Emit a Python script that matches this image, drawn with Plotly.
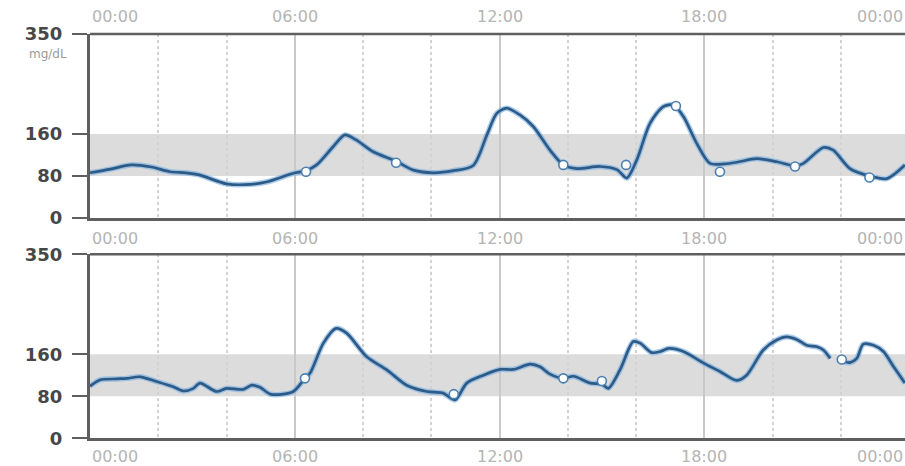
import plotly.graph_objects as go
from plotly.subplots import make_subplots

# ---- data (hours after midnight, glucose mg/dL) ----
top_hours = [0, 0.6, 1.2, 1.8, 2.35, 2.8, 3.2, 4.0, 4.7, 5.2, 5.96, 6.33, 6.64, 7.13, 7.47, 7.81,
             8.3, 8.97, 9.48, 10.06, 10.65, 11.23, 11.63, 11.92, 12.21, 12.6, 12.99, 13.48, 13.87,
             14.26, 14.95, 15.44, 15.73, 16.02, 16.41, 16.8, 17.1, 17.39, 17.78, 18.17, 18.6, 18.95,
             19.54, 20.13, 20.66, 20.91, 21.49, 21.78, 22.27, 22.84, 23.35, 23.88]
top_glucose = [86, 93, 101, 97, 88, 86, 82, 65, 64, 69, 85, 90, 101, 136, 158, 148,
               126, 108, 91, 86, 90, 100, 158, 199, 209, 196, 174, 129, 101,
               94, 98, 92, 76, 110, 180, 212, 215, 193, 142, 104, 103, 106,
               113, 107, 99, 104, 134, 129, 94, 80, 75, 101]
top_marker_hours = [6.33, 8.97, 13.87, 15.71, 17.17, 18.46, 20.66, 22.84]
top_marker_values = [88, 105, 101, 101, 213, 88, 98, 77]

bottom_hours = [0, 0.29, 0.78, 1.08, 1.47, 1.95, 2.44, 2.73, 3.03, 3.22, 3.71, 4.0, 4.49, 4.74,
                4.98, 5.28, 5.66, 5.96, 6.3, 6.45, 6.84, 7.21, 7.52, 8.11, 8.7, 9.28, 9.87, 10.35,
                10.7, 11.04, 11.53, 12.02, 12.41, 12.9, 13.19, 13.48, 13.87, 14.17, 14.66, 15.0,
                15.19, 15.53, 15.92, 16.12, 16.46, 16.71, 16.96, 17.39, 17.98, 18.46, 18.95, 19.24,
                19.73, 20.12, 20.42, 20.71, 21.0, 21.3, 21.49, 21.69, 21.85,
                22.08, 22.27, 22.47, 22.66, 22.96, 23.25, 23.55, 23.88]
bottom_glucose = [99, 111, 113, 114, 117, 108, 98, 90, 95, 105, 89, 95, 93, 101,
                  97, 84, 84, 89, 114, 124, 181, 209, 200, 155, 130, 101, 89, 86,
                  73, 105, 120, 131, 131, 141, 136, 122, 114, 118, 105, 103,
                  95, 130, 184, 181, 163, 165, 171, 165, 143, 127, 110, 120,
                  168, 187, 193, 188, 177, 174, 168, 152, None,
                  146, 144, 152, 179, 177, 165, 136, 105]
bottom_marker_hours = [6.3, 10.66, 13.87, 15.0, 22.03]
bottom_marker_values = [114, 84, 114, 109, 150]

y_ticks = [0, 80, 160, 350]
target_low, target_high = 80, 160
time_labels = ["00:00", "06:00", "12:00", "18:00", "00:00"]
time_label_hours = [0, 6, 12, 18, 24]

# ---- styling / geometry ----
W, H = 905, 466
line_col = "#2c5b87"
halo_col = "rgba(125,175,225,0.65)"
axis_col = "#5f5f5f"

def px_x(p):
    return p / W

def px_y(p):
    return 1 - p / H

fig = make_subplots(rows=2, cols=1)

def add_series(hours, vals, mh, mv, row):
    fig.add_trace(go.Scatter(x=hours, y=vals, mode="lines", connectgaps=False,
                             line=dict(color=halo_col, width=5.5, shape="spline", smoothing=0.8),
                             hoverinfo="skip", showlegend=False), row=row, col=1)
    fig.add_trace(go.Scatter(x=hours, y=vals, mode="lines", connectgaps=False,
                             line=dict(color=line_col, width=2.7, shape="spline", smoothing=0.8),
                             showlegend=False), row=row, col=1)
    fig.add_trace(go.Scatter(x=mh, y=mv, mode="markers",
                             marker=dict(size=9, color="white",
                                         line=dict(color="#4a7fb0", width=1.6)),
                             showlegend=False), row=row, col=1)

add_series(top_hours, top_glucose, top_marker_hours, top_marker_values, 1)
add_series(bottom_hours, bottom_glucose, bottom_marker_hours, bottom_marker_values, 2)

# plot area runs slightly past the right edge of the canvas (24:00 sits at ~909px)
x_end_hour = 24 * (905 - 90) / (909 - 90)
xdom = [px_x(90), 1]
domains = {1: [px_y(218), px_y(34)], 2: [px_y(438.3), px_y(254.3)]}

for r in (1, 2):
    fig.update_xaxes(row=r, col=1, domain=xdom, range=[0, x_end_hour], dtick=6, tick0=0,
                     showticklabels=False, ticks="", automargin=False,
                     showgrid=True, gridcolor="#c9c9c9", gridwidth=2,
                     minor=dict(dtick=2, tick0=0, showgrid=True, gridcolor="#d2d2d2",
                                gridwidth=2, griddash="dot"),
                     showline=True, linecolor=axis_col, linewidth=2.5, mirror=False,
                     zeroline=False, fixedrange=True)
    fig.update_yaxes(row=r, col=1, domain=domains[r], range=[0, 350], automargin=False,
                     tickmode="array", tickvals=y_ticks, ticktext=[str(v) for v in y_ticks],
                     ticks="outside", ticklen=15, tickwidth=2, tickcolor=axis_col,
                     ticklabelstandoff=6,
                     tickfont=dict(family="DejaVu Sans", size=18, color="#474747", weight="bold"),
                     showgrid=False, zeroline=False,
                     showline=True, linecolor=axis_col, linewidth=3, fixedrange=True)
    yref = "y" if r == 1 else "y2"
    xref = "x" if r == 1 else "x2"
    fig.add_shape(type="rect", xref=f"{xref} domain", yref=yref, x0=0, x1=1,
                  y0=target_low, y1=target_high, fillcolor="#dcdcdc",
                  line=dict(width=0), layer="below")
    # top border of each panel (the right border lies off-canvas)
    fig.add_shape(type="line", xref=f"{xref} domain", yref=f"{yref} domain",
                  x0=0, x1=1, y0=1, y1=1, line=dict(color=axis_col, width=2.5), layer="above")

# time labels rows (above top, between, below bottom)
label_rows = [px_y(17), px_y(238), px_y(456)]
lab_font = dict(family="DejaVu Sans", size=16, color="#b4b4b4")
for ly in label_rows:
    for h, t in zip(time_label_hours, time_labels):
        if h == 0:
            fig.add_annotation(x=h, xref="x", y=ly, yref="paper", text=t, showarrow=False,
                               xanchor="left", yanchor="middle", font=lab_font)
        elif h == 24:
            fig.add_annotation(x=1, xref="paper", y=ly, yref="paper", text=t,
                               showarrow=False, xanchor="right", yanchor="middle", font=lab_font)
        else:
            fig.add_annotation(x=h, xref="x", y=ly, yref="paper", text=t, showarrow=False,
                               xanchor="center", yanchor="middle", font=lab_font)

fig.add_annotation(x=px_x(69), xref="paper", y=px_y(54), yref="paper", text="mg/dL",
                   showarrow=False, xanchor="right", yanchor="middle",
                   font=dict(family="DejaVu Sans", size=12, color="#9a9a9a"))

fig.update_layout(width=W, height=H,
                  margin=dict(l=0, r=0, t=0, b=0, autoexpand=False),
                  paper_bgcolor="white", plot_bgcolor="white", showlegend=False,
                  hovermode=False)

fig.write_html("out.html",
               config={"displayModeBar": False, "staticPlot": True},
               post_script="document.body.style.margin='0';document.body.style.overflow='hidden';")
